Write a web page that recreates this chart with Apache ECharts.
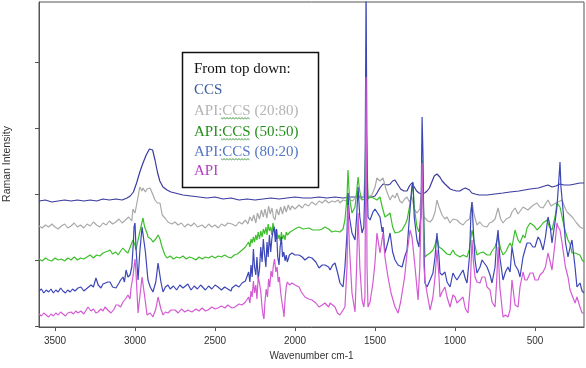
<!DOCTYPE html>
<html>
<head>
<meta charset="utf-8">
<script src="https://cdn.jsdelivr.net/npm/echarts@6/dist/echarts.min.js"></script>
<style>
html,body{margin:0;padding:0;background:#fff;}
#chart{width:586px;height:368px;}
</style>
</head>
<body>
<div id="chart"></div>
<script>
// Wavenumber (cm-1) / Raman intensity (arbitrary units, vertically offset traces)
const xTicks = [3500, 3000, 2500, 2000, 1500, 1000, 500];
const yTicks = [1, 67, 133, 199, 265];
const seriesNames = ['CCS', 'API:CCS (20:80)', 'API:CCS (50:50)', 'API:CCS (80:20)', 'API'];

const ccs = [[3600,126],[3560,127],[3520,125],[3480,126],[3440,127],[3400,126],[3360,127],[3320,126],[3280,127],[3240,126],[3200,128],[3160,127],[3120,128],[3080,127],[3050,129],[3030,131],[3010,135],[2990,144],[2970,155],[2950,164],[2930,172],[2910,178],[2900,180],[2890,177],[2875,167],[2860,155],[2845,146],[2825,140],[2800,137],[2775,135],[2750,134],[2700,132],[2650,131],[2600,130],[2550,129],[2500,130],[2450,128],[2400,129],[2350,127],[2300,128],[2250,127],[2200,128],[2150,129],[2100,128],[2050,129],[2000,130],[1950,129],[1900,129],[1850,130],[1800,129],[1750,130],[1700,129],[1650,130],[1600,130],[1560,130],[1520,130],[1500,131],[1488,134],[1470,139],[1450,143],[1438,144],[1420,142],[1405,143],[1390,146],[1375,147],[1360,143],[1340,138],[1320,136],[1300,136],[1285,141],[1270,144],[1255,140],[1240,136],[1225,134],[1210,133],[1200,133],[1190,134],[1175,136],[1160,139],[1145,145],[1130,151],[1113,153],[1095,150],[1080,146],[1063,143],[1050,141],[1030,138],[1013,137],[990,136],[970,136],[950,138],[935,139],[925,139],[910,137],[895,134],[875,133],[850,132],[800,132],[750,133],[700,134],[656,135],[600,136],[531,138],[480,139],[419,142],[394,140],[370,141],[344,143],[320,142],[281,142],[250,143],[219,144],[194,144]];

const mix2080 = [[3600,101],[3580,99],[3560,102],[3540,100],[3520,103],[3500,100],[3480,98],[3460,101],[3440,103],[3420,99],[3400,101],[3380,104],[3360,100],[3340,102],[3320,99],[3300,103],[3280,101],[3260,105],[3240,102],[3220,100],[3200,104],[3180,102],[3160,106],[3140,103],[3120,105],[3100,108],[3080,104],[3060,107],[3040,110],[3020,106],[3013,118],[3006,116],[3000,114],[2990,112],[2981,130],[2970,140],[2956,136],[2950,139],[2935,135],[2925,138],[2906,139],[2890,133],[2875,127],[2860,124],[2844,124],[2830,112],[2813,109],[2794,105],[2770,103],[2750,105],[2731,102],[2710,104],[2690,100],[2670,103],[2650,101],[2630,104],[2610,100],[2581,102],[2560,99],[2540,103],[2520,100],[2500,102],[2480,99],[2460,103],[2438,101],[2420,104],[2394,103],[2370,101],[2350,105],[2331,103],[2310,107],[2295,103],[2282,110],[2269,106],[2258,112],[2245,104],[2235,114],[2222,108],[2210,117],[2198,110],[2188,118],[2176,109],[2165,121],[2155,113],[2144,119],[2135,110],[2125,107],[2115,118],[2102,112],[2090,120],[2078,113],[2066,121],[2055,115],[2042,122],[2030,117],[2019,121],[2000,118],[1975,122],[1955,119],[1938,123],[1915,121],[1895,125],[1870,122],[1850,126],[1830,124],[1810,127],[1790,124],[1769,126],[1750,125],[1730,127],[1719,124],[1700,127],[1680,126],[1669,134],[1656,127],[1640,126],[1625,129],[1606,134],[1590,128],[1570,130],[1556,180],[1545,130],[1520,132],[1500,140],[1488,149],[1470,146],[1450,149],[1430,137],[1406,127],[1390,132],[1375,129],[1363,134],[1345,126],[1331,124],[1315,128],[1300,130],[1285,125],[1270,130],[1255,118],[1238,114],[1220,118],[1206,140],[1195,110],[1188,109],[1170,106],[1156,105],[1140,108],[1125,115],[1113,127],[1100,120],[1081,112],[1063,108],[1050,110],[1031,104],[1013,108],[988,107],[970,104],[950,102],[930,106],[910,108],[894,125],[880,112],[863,102],[845,105],[825,101],[800,100],[785,104],[769,105],[750,108],[731,119],[715,108],[700,104],[680,108],[656,110],[644,115],[625,119],[606,113],[594,115],[575,120],[563,122],[545,117],[531,119],[510,122],[488,124],[470,120],[450,119],[435,123],[419,127],[400,121],[388,120],[370,124],[356,125],[331,127],[315,120],[300,115],[280,112],[263,109],[240,104],[219,100],[194,98]];

const mix5050 = [[3600,68],[3580,66],[3560,69],[3540,67],[3520,66],[3500,69],[3480,67],[3460,68],[3440,66],[3420,69],[3400,67],[3380,70],[3360,67],[3340,69],[3320,68],[3300,70],[3280,72],[3260,69],[3240,72],[3220,71],[3200,74],[3188,74],[3169,76],[3156,77],[3140,73],[3120,75],[3106,72],[3090,76],[3075,79],[3060,76],[3044,74],[3030,80],[3013,87],[3000,82],[2994,77],[2981,87],[2970,95],[2956,105],[2950,109],[2940,100],[2925,94],[2919,90],[2900,88],[2888,85],[2870,88],[2856,92],[2844,88],[2831,80],[2813,72],[2800,69],[2780,71],[2760,68],[2740,70],[2720,69],[2700,71],[2680,68],[2660,70],[2640,69],[2620,67],[2600,70],[2580,68],[2560,70],[2540,69],[2520,71],[2500,69],[2480,71],[2460,70],[2440,72],[2420,70],[2400,69],[2380,72],[2360,73],[2331,77],[2310,80],[2300,82],[2290,85],[2282,80],[2275,88],[2268,84],[2260,90],[2253,85],[2245,92],[2238,87],[2230,95],[2222,88],[2214,96],[2206,90],[2198,98],[2190,93],[2182,100],[2175,92],[2168,103],[2160,96],[2152,100],[2145,92],[2138,104],[2130,99],[2122,93],[2115,98],[2108,88],[2100,92],[2092,86],[2085,95],[2078,88],[2070,92],[2062,87],[2055,95],[2048,92],[2031,95],[2010,97],[1990,99],[1975,100],[1950,98],[1913,99],[1890,97],[1850,97],[1830,98],[1813,100],[1790,98],[1769,95],[1750,96],[1719,95],[1700,98],[1688,107],[1675,130],[1669,157],[1660,130],[1644,114],[1635,115],[1625,120],[1615,135],[1606,150],[1595,135],[1581,127],[1565,128],[1556,210],[1544,128],[1531,130],[1510,129],[1488,127],[1469,130],[1455,120],[1438,110],[1420,112],[1406,114],[1390,100],[1375,94],[1350,95],[1331,97],[1310,103],[1300,107],[1285,120],[1270,135],[1263,144],[1255,120],[1238,100],[1225,95],[1212,110],[1206,167],[1200,140],[1194,100],[1188,70],[1175,72],[1156,74],[1138,77],[1125,82],[1113,90],[1100,80],[1094,79],[1081,78],[1063,75],[1050,73],[1031,72],[1013,77],[1000,73],[988,75],[969,70],[950,72],[925,70],[910,78],[894,97],[880,85],[863,72],[844,74],[825,75],[813,73],[800,72],[781,72],[769,76],[750,80],[731,90],[715,78],[700,72],[680,76],[669,80],[656,84],[644,80],[625,97],[606,87],[594,84],[575,92],[563,89],[550,99],[531,104],[513,102],[500,100],[488,97],[469,100],[450,104],[425,107],[410,100],[394,97],[375,110],[363,124],[356,122],[344,120],[331,110],[310,95],[294,87],[281,83],[269,74],[250,74],[238,76],[219,72],[206,67],[194,65]];

const mix8020 = [[3600,36],[3585,38],[3570,34],[3555,37],[3540,35],[3525,38],[3510,34],[3495,37],[3480,35],[3465,39],[3450,36],[3435,34],[3420,37],[3405,35],[3390,38],[3375,36],[3356,39],[3338,40],[3320,36],[3305,38],[3294,37],[3275,42],[3260,40],[3244,49],[3230,42],[3213,39],[3200,43],[3188,41],[3170,45],[3156,45],[3140,40],[3119,39],[3100,44],[3090,47],[3075,50],[3066,45],[3056,57],[3044,50],[3031,52],[3020,60],[3010,85],[3006,100],[3000,104],[2994,80],[2981,47],[2970,75],[2956,100],[2950,99],[2935,75],[2919,47],[2905,40],[2888,35],[2870,45],[2856,64],[2850,64],[2838,45],[2825,35],[2810,40],[2794,42],[2780,38],[2760,41],[2740,37],[2720,42],[2700,39],[2688,39],[2670,43],[2650,37],[2630,41],[2610,38],[2590,42],[2581,40],[2560,37],[2540,41],[2520,38],[2500,42],[2481,40],[2460,37],[2440,40],[2420,38],[2400,36],[2394,39],[2370,42],[2350,40],[2331,44],[2310,46],[2300,48],[2290,55],[2282,45],[2275,62],[2268,50],[2260,78],[2253,60],[2245,52],[2238,70],[2230,48],[2222,58],[2214,80],[2206,65],[2198,88],[2190,72],[2182,60],[2175,85],[2168,70],[2160,92],[2152,75],[2145,88],[2138,95],[2130,100],[2123,85],[2116,98],[2108,70],[2100,62],[2093,80],[2085,90],[2078,70],[2070,75],[2062,66],[2055,72],[2048,65],[2035,72],[2019,74],[2000,72],[1975,72],[1955,70],[1938,67],[1915,70],[1894,69],[1870,65],[1850,59],[1830,62],[1813,62],[1790,60],[1781,57],[1765,62],[1750,64],[1735,55],[1719,44],[1700,40],[1688,60],[1675,94],[1669,134],[1660,110],[1644,94],[1625,87],[1615,110],[1606,140],[1595,110],[1581,94],[1570,100],[1562,150],[1556,340],[1550,160],[1544,110],[1531,107],[1513,115],[1500,118],[1488,120],[1469,110],[1455,95],[1450,100],[1438,74],[1419,85],[1406,94],[1390,75],[1375,67],[1356,62],[1331,60],[1315,70],[1300,77],[1285,110],[1270,140],[1263,145],[1255,110],[1238,87],[1225,80],[1212,120],[1206,210],[1200,170],[1194,80],[1188,44],[1175,40],[1156,47],[1138,54],[1125,70],[1113,94],[1100,70],[1094,54],[1081,52],[1063,55],[1050,45],[1031,40],[1013,54],[1000,50],[988,47],[981,47],[969,52],[950,57],[935,48],[925,44],[910,70],[900,115],[894,125],[885,95],[875,67],[863,54],[844,60],[831,67],[813,63],[800,60],[781,52],[769,44],[750,60],[740,85],[731,97],[720,70],[700,47],[685,55],[669,60],[656,55],[644,80],[638,80],[625,62],[606,57],[594,50],[575,70],[563,77],[550,84],[531,84],[513,80],[500,80],[481,90],[469,87],[450,77],[435,90],[419,110],[405,100],[394,84],[375,105],[363,120],[350,150],[344,165],[338,140],[325,117],[310,85],[294,70],[281,80],[269,87],[250,60],[238,40],[219,44],[206,36],[194,34]];

const api = [[3600,13],[3585,11],[3570,14],[3555,12],[3540,10],[3525,13],[3510,11],[3495,14],[3480,12],[3465,15],[3450,13],[3435,11],[3420,14],[3400,15],[3385,13],[3370,16],[3356,14],[3338,16],[3320,13],[3305,17],[3294,20],[3275,16],[3260,18],[3244,14],[3231,15],[3213,18],[3200,16],[3188,20],[3170,17],[3150,14],[3130,18],[3119,22],[3106,22],[3090,20],[3075,25],[3060,28],[3044,32],[3031,28],[3025,39],[3013,50],[3006,60],[3000,68],[2994,55],[2981,14],[2970,30],[2956,50],[2950,48],[2935,25],[2925,12],[2905,14],[2888,10],[2870,18],[2856,30],[2850,30],[2838,18],[2825,12],[2810,15],[2794,14],[2775,17],[2750,17],[2730,14],[2710,18],[2688,15],[2670,17],[2644,15],[2620,18],[2600,16],[2581,19],[2560,16],[2544,17],[2520,20],[2500,18],[2481,19],[2460,21],[2438,19],[2420,22],[2394,19],[2375,20],[2350,23],[2331,22],[2310,25],[2300,26],[2290,30],[2282,24],[2275,36],[2268,30],[2260,46],[2253,34],[2245,42],[2238,28],[2230,50],[2222,44],[2214,35],[2206,20],[2200,12],[2194,8],[2188,25],[2180,38],[2172,30],[2165,48],[2158,40],[2150,56],[2142,50],[2135,62],[2128,68],[2120,55],[2112,60],[2105,45],[2098,50],[2090,35],[2082,25],[2075,18],[2069,10],[2062,28],[2055,40],[2048,45],[2035,42],[2019,44],[2000,42],[1975,40],[1960,35],[1938,30],[1915,28],[1894,27],[1870,24],[1850,20],[1830,22],[1813,24],[1790,20],[1781,24],[1765,22],[1750,20],[1735,14],[1719,12],[1700,17],[1688,20],[1675,60],[1669,122],[1660,80],[1644,34],[1625,15],[1615,60],[1606,114],[1595,60],[1581,27],[1570,20],[1563,30],[1556,250],[1550,60],[1544,20],[1531,25],[1513,44],[1500,65],[1488,94],[1469,74],[1450,94],[1438,70],[1419,50],[1400,34],[1388,34],[1375,20],[1356,14],[1340,25],[1331,34],[1315,50],[1300,74],[1281,97],[1269,90],[1250,60],[1231,27],[1220,60],[1206,164],[1200,120],[1194,60],[1188,47],[1175,34],[1156,17],[1138,30],[1125,50],[1113,77],[1100,50],[1094,30],[1081,35],[1063,40],[1050,30],[1031,20],[1013,32],[1000,30],[988,24],[981,24],[969,27],[950,30],[935,18],[919,14],[905,40],[894,87],[885,65],[875,50],[863,45],[844,44],[831,50],[813,50],[800,40],[781,37],[769,25],[750,20],[740,45],[731,80],[720,40],[700,10],[685,12],[669,10],[656,17],[644,47],[638,45],[625,22],[606,20],[594,40],[575,55],[563,47],[550,47],[531,54],[513,54],[500,47],[481,47],[469,52],[450,55],[435,60],[419,74],[405,65],[394,57],[375,84],[363,104],[356,100],[344,97],[331,84],[325,77],[310,60],[294,50],[281,37],[269,37],[250,24],[238,30],[219,20],[206,14],[194,14]];

const lineColors = ['#3a3a9e', '#a9a9a9', '#3cbf2a', '#3c46b8', '#d45ad4'];
const legendColors = ['#3b5b9b', '#b4b4b4', '#23901a', '#5575c8', '#b43ec4'];
const seriesData = [ccs, mix2080, mix5050, mix8020, api];

const chart = echarts.init(document.getElementById('chart'));

const graphics = [];
graphics.push({
  type: 'rect', shape: {x: 182.5, y: 52.5, width: 136, height: 135},
  style: {fill: '#fff', stroke: '#111', lineWidth: 1.5}, z: 100
});
graphics.push({
  type: 'text', x: 194, y: 69, z: 101,
  style: {text: 'From top down:', font: '15px "Liberation Serif"', fill: '#111', verticalAlign: 'middle'}
});
const rowY = [90, 111, 132, 152, 171];
seriesNames.forEach(function (n, i) {
  graphics.push({
    type: 'text', x: 194, y: rowY[i], z: 101,
    style: {text: n, font: '15px "Liberation Serif"', fill: legendColors[i], verticalAlign: 'middle'}
  });
  if (i >= 1 && i <= 3) {
    const pts = [];
    for (let x = 221; x <= 250; x += 1.5) {
      pts.push([x, rowY[i] + 7 + ((Math.round((x - 221) / 1.5) % 2) ? 0.8 : -0.3)]);
    }
    graphics.push({
      type: 'polyline', z: 101, shape: {points: pts},
      style: {stroke: '#4aa04a', lineWidth: 1, fill: null}
    });
  }
});
graphics.push({
  type: 'text', x: 7, y: 164, rotation: Math.PI / 2, z: 101,
  style: {text: 'Raman Intensity', font: '10.5px "Liberation Sans"', fill: '#333', align: 'center', verticalAlign: 'middle'}
});

chart.setOption({
  animation: false,
  backgroundColor: '#fff',
  grid: {left: 39, right: 2, top: 2, bottom: 41, show: true, borderColor: '#555', borderWidth: 1, backgroundColor: 'transparent'},
  xAxis: {
    type: 'value', inverse: true, min: 194, max: 3600,
    name: 'Wavenumber cm-1', nameLocation: 'middle', nameGap: 22,
    nameTextStyle: {fontFamily: 'Liberation Sans', fontSize: 10, color: '#333'},
    axisLine: {show: true, lineStyle: {color: '#555'}},
    axisTick: {show: true, length: 4, customValues: xTicks, lineStyle: {color: '#555'}},
    axisLabel: {customValues: xTicks, formatter: function (v) { return String(v); }, fontFamily: 'Liberation Sans', fontSize: 10, color: '#333', margin: 9},
    splitLine: {show: false}
  },
  yAxis: {
    type: 'value', min: 0, max: 325,
    axisLine: {show: true, lineStyle: {color: '#555'}},
    axisTick: {show: true, length: 4, customValues: yTicks, lineStyle: {color: '#555'}},
    axisLabel: {show: false},
    splitLine: {show: false}
  },
  graphic: graphics,
  series: seriesData.map(function (d, i) {
    return {
      name: seriesNames[i], type: 'line', data: d, showSymbol: false, symbol: 'none',
      clip: true, z: 2 + i,
      lineStyle: {color: lineColors[i], width: 1.2}
    };
  })
});
</script>
</body>
</html>
